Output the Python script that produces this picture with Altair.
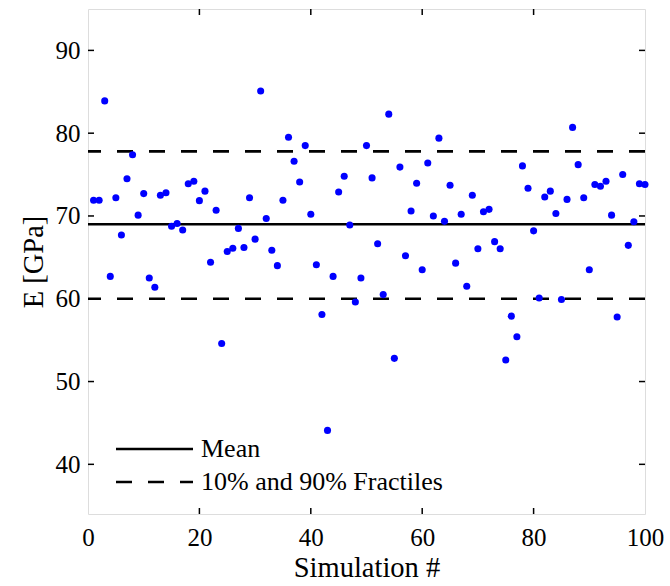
import altair as alt
import pandas as pd

# ---- data ----
simulation = list(range(1, 101))
modulus = [
    71.9, 71.9, 83.9, 62.7, 72.2, 67.7, 74.5, 77.4, 70.1, 72.7,
    62.5, 61.4, 72.5, 72.8, 68.75, 69.1, 68.3, 73.9, 74.2, 71.85,
    73.0, 64.4, 70.7, 54.6, 65.7, 66.1, 68.5, 66.2, 72.2, 67.2,
    85.1, 69.7, 65.85, 64.0, 71.9, 79.5, 76.6, 74.1, 78.5, 70.2,
    64.1, 58.1, 44.1, 62.7, 72.9, 74.8, 68.9, 59.6, 62.5, 78.5,
    74.6, 66.65, 60.5, 82.3, 52.8, 75.9, 65.2, 70.6, 73.95, 63.5,
    76.4, 70.0, 79.4, 69.35, 73.7, 64.3, 70.2, 61.5, 72.5, 66.05,
    70.5, 70.8, 66.9, 66.05, 52.6, 57.9, 55.4, 76.05, 73.35, 68.2,
    60.1, 72.3, 73.0, 70.3, 59.9, 72.0, 80.7, 76.2, 72.2, 63.5,
    73.8, 73.6, 74.2, 70.1, 57.8, 75.0, 66.45, 69.3, 73.9, 73.8,
]
mean_value = [69.0]
fractile_values = [60.0, 77.8]
y_tick_values = [40, 50, 60, 70, 80, 90]
x_tick_values = [0, 20, 40, 60, 80, 100]
legend_labels = ["Mean", "10% and 90% Fractiles"]

W, H = 557, 505
FONT = "Liberation Serif, Times New Roman, DejaVu Serif, serif"
FS = 25      # tick labels
TFS = 28.5   # axis titles
LFS = 26     # legend text

pts = pd.DataFrame({"sim": simulation, "E": modulus})
mean_df = pd.DataFrame({"E": mean_value})
frac_df = pd.DataFrame({"E": fractile_values})
yt_df = pd.DataFrame({"E": y_tick_values})
xt_df = pd.DataFrame({"sim": [v for v in x_tick_values if 0 < v < 100]})

xscale = alt.Scale(domain=[0, 100], nice=False, zero=False)
yscale = alt.Scale(domain=[34, 95], nice=False, zero=False)

xaxis = alt.Axis(values=x_tick_values, title="Simulation #", domain=False,
                 ticks=False, tickSize=0, grid=False, labelPadding=11,
                 labelFlush=False, labelOverlap=False,
                 labelFont=FONT, labelFontSize=FS, labelColor="black",
                 titleFont=FONT, titleFontSize=TFS, titleFontWeight="normal",
                 titleColor="black", titlePadding=3)
yaxis = alt.Axis(values=y_tick_values, title="E [GPa]", domain=False,
                 ticks=False, tickSize=0, grid=False, labelPadding=8,
                 labelFlush=False, labelOverlap=False,
                 labelFont=FONT, labelFontSize=FS, labelColor="black",
                 titleFont=FONT, titleFontSize=TFS, titleFontWeight="normal",
                 titleColor="black", titlePadding=7)

points = alt.Chart(pts).mark_circle(size=50, color="#0000ff", opacity=1).encode(
    x=alt.X("sim:Q", scale=xscale, axis=xaxis),
    y=alt.Y("E:Q", scale=yscale, axis=yaxis),
)

mean_line = alt.Chart(mean_df).mark_rule(color="black", strokeWidth=2.5).encode(
    y=alt.Y("E:Q", scale=yscale)
)
frac_lines = alt.Chart(frac_df).mark_rule(color="black", strokeWidth=2.6,
                                          strokeDash=[16, 16]).encode(
    y=alt.Y("E:Q", scale=yscale)
)

TL = 6
left_ticks = alt.Chart(yt_df).mark_rule(color="black", strokeWidth=1.5).encode(
    y=alt.Y("E:Q", scale=yscale), x=alt.value(0), x2=alt.value(TL))
right_ticks = alt.Chart(yt_df).mark_rule(color="black", strokeWidth=1.5).encode(
    y=alt.Y("E:Q", scale=yscale), x=alt.value(W - TL), x2=alt.value(W))
bottom_ticks = alt.Chart(xt_df).mark_rule(color="black", strokeWidth=1.5).encode(
    x=alt.X("sim:Q", scale=xscale), y=alt.value(H - TL), y2=alt.value(H))
top_ticks = alt.Chart(xt_df).mark_rule(color="black", strokeWidth=1.5).encode(
    x=alt.X("sim:Q", scale=xscale), y=alt.value(0), y2=alt.value(TL))

# ---- legend (inside plot, lower left) ----
leg_solid = alt.Chart(pd.DataFrame({"k": [0]})).mark_rule(
    color="black", strokeWidth=2.5).encode(
    x=alt.value(28), x2=alt.value(105), y=alt.value(440))
leg_dash = alt.Chart(pd.DataFrame({"k": [0]})).mark_rule(
    color="black", strokeWidth=2.6, strokeDash=[16, 16]).encode(
    x=alt.value(28), x2=alt.value(105), y=alt.value(473))
leg_t1 = alt.Chart(pd.DataFrame({"t": [legend_labels[0]]})).mark_text(
    font=FONT, fontSize=LFS, align="left", baseline="middle", color="black").encode(
    text="t:N", x=alt.value(113), y=alt.value(440))
leg_t2 = alt.Chart(pd.DataFrame({"t": [legend_labels[1]]})).mark_text(
    font=FONT, fontSize=LFS, align="left", baseline="middle", color="black").encode(
    text="t:N", x=alt.value(113), y=alt.value(473))

chart = alt.layer(
    frac_lines, mean_line, points,
    left_ticks, right_ticks, bottom_ticks, top_ticks,
    leg_solid, leg_dash, leg_t1, leg_t2,
).properties(
    width=W, height=H,
    autosize=alt.AutoSizeParams(type="none"),
    padding={"left": 88, "top": 9, "right": 25, "bottom": 72},
).configure_view(
    stroke="black", strokeWidth=2
).configure(background="white")

chart.save("out.html", embed_options={"renderer": "svg", "actions": False})
